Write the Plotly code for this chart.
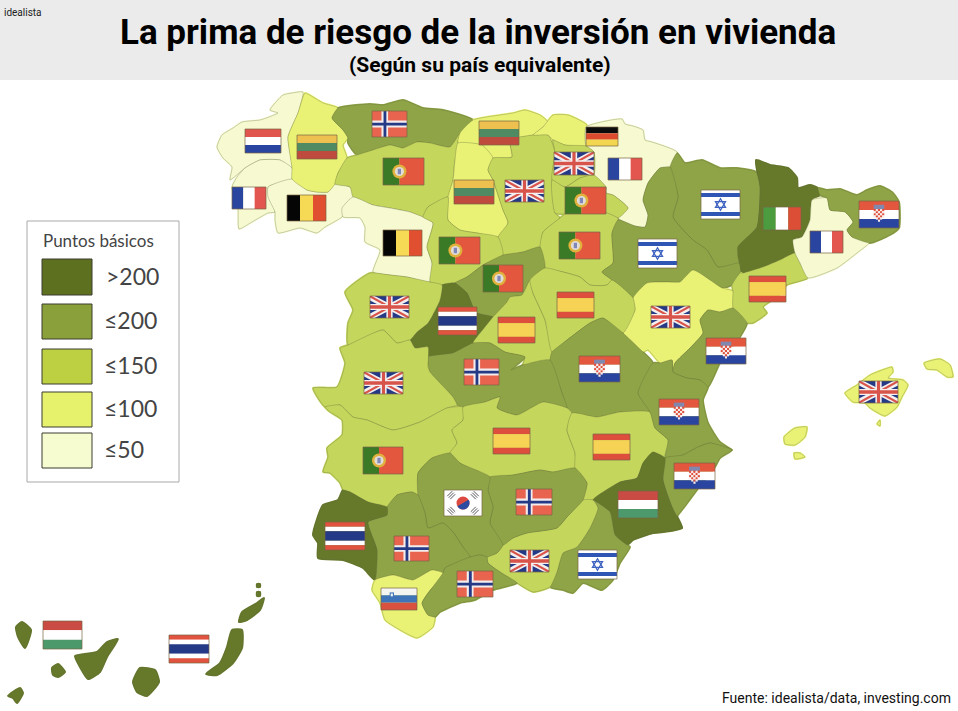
import numpy as np
import plotly.graph_objects as go

# risk band per province (0: <=50, 1: <=100, 2: <=150, 3: <=200, 4: >200)
province_names = ["A Coruna", "Pontevedra", "Ourense", "Lugo", "Asturias", "Leon", "Cantabria", "Palencia",
                  "Burgos", "Bizkaia", "Navarra", "Alava", "La Rioja", "Soria", "Huesca", "Zaragoza", "Teruel",
                  "Lleida", "Tarragona", "Barcelona", "Girona", "Zamora", "Valladolid", "Segovia", "Avila",
                  "Madrid", "Guadalajara", "Cuenca", "Toledo", "Salamanca", "Caceres", "Badajoz", "Ciudad Real",
                  "Albacete", "Castellon", "Valencia", "Alicante", "Murcia", "Almeria", "Granada", "Jaen",
                  "Cordoba", "Sevilla", "Huelva", "Cadiz", "Malaga", "Mallorca", "Menorca", "Ibiza",
                  "Formentera", "Cabrera", "La Palma", "La Gomera", "El Hierro", "Tenerife", "Gran Canaria",
                  "Fuerteventura", "Lanzarote", "Graciosa", "Alegranza"]
province_band = [0, 0, 0, 1, 3, 2, 1, 1,
                 2, 1, 0, 2, 2, 2, 3, 3, 1,
                 4, 2, 0, 3, 0, 2, 3, 4,
                 2, 2, 3, 3, 2, 2, 2, 2,
                 2, 3, 3, 3, 4, 3, 2, 3,
                 3, 3, 4, 1, 3, 1, 1, 1,
                 1, 1, 4, 4, 4, 4, 4,
                 4, 4, 4, 4]

band_colors = ["#f7fad0", "#e9f274", "#c5d65c", "#8fa446", "#66792b"]
legend_colors = ["#5c7020", "#8aa13b", "#bcd042", "#e6f26c", "#f6fbd0"]
legend_labels = [">200", "≤200", "≤150", "≤100", "≤50"]
legend_title = "Puntos básicos"

title = "La prima de riesgo de la inversión en vivienda"
subtitle = "(Según su país equivalente)"
logo = "idealista"
source = "Fuente: idealista/data, investing.com"

# outlines
outlines = {
    "A Coruna": [(303,92),(292,93),(283,95),(270,110),(278,113),(269,117),(260,120),(242,122),(233,128),(222,135),(217,147),(223,158),(232,167),(230,180),(245,168),(260,160),(280,160),(292,168),(288,137),(298,113)],
    "Pontevedra": [(292,168),(280,160),(260,160),(245,168),(237,177),(232,187),(238,207),(239,229),(252,222),(268,213),(275,212),(268,187),(292,179)],
    "Ourense": [(268,187),(292,179),(307,190),(317,192),(328,192),(335,184),(350,187),(354,197),(347,207),(342,217),(325,227),(317,233),(300,228),(278,233),(275,220),(275,212),(268,197)],
    "Lugo": [(305,93),(313,97),(323,103),(338,108),(332,118),(343,130),(348,138),(343,145),(347,158),(338,173),(335,184),(328,192),(317,192),(307,190),(292,179),(292,168),(288,137),(298,113)],
    "Asturias": [(338,108),(370,104),(383,105),(403,100),(423,108),(443,110),(473,120),(460,133),(450,147),(430,143),(417,142),(403,148),(390,145),(373,150),(357,155),(348,143),(348,138),(343,130),(332,118)],
    "Leon": [(357,155),(373,150),(390,145),(403,148),(417,142),(430,143),(450,147),(460,133),(458,143),(462,147),(455,160),(453,180),(448,197),(428,207),(423,217),(410,212),(390,208),(373,205),(353,197),(350,187),(335,184),(338,173),(347,158)],
    "Cantabria": [(473,120),(513,113),(525,110),(540,115),(548,122),(543,127),(533,135),(510,140),(512,157),(500,158),(493,158),(482,145),(458,143),(460,133)],
    "Palencia": [(458,143),(482,145),(493,158),(488,170),(493,180),(503,210),(508,223),(498,237),(477,233),(460,230),(448,220),(448,197),(453,180),(455,160)],
    "Burgos": [(493,158),(512,157),(510,140),(533,135),(548,135),(555,152),(552,180),(555,213),(560,218),(543,232),(540,247),(523,252),(503,255),(498,237),(508,223),(503,210),(493,180),(488,170)],
    "Bizkaia": [(543,127),(553,115),(568,115),(587,125),(586,146),(565,145),(553,140),(548,135),(533,135)],
    "Navarra": [(586,127),(622,119),(625,124),(633,126),(643,130),(645,140),(652,142),(677,152),(670,167),(660,168),(648,183),(643,200),(648,215),(645,227),(635,226),(618,218),(628,208),(613,195),(606,193),(606,187),(594,175),(594,152),(586,146)],
    "Alava": [(553,140),(565,145),(586,146),(594,152),(594,175),(580,178),(565,187),(552,180),(555,152)],
    "La Rioja": [(552,180),(565,187),(580,178),(594,175),(606,187),(606,193),(613,195),(628,208),(618,218),(600,210),(585,205),(565,214),(555,213)],
    "Soria": [(560,218),(565,214),(585,205),(600,210),(618,218),(618,220),(612,233),(613,263),(602,272),(612,280),(607,285),(590,285),(580,277),(563,272),(545,268),(540,247),(543,232)],
    "Huesca": [(677,153),(685,163),(702,160),(720,168),(737,168),(756,172),(760,187),(757,227),(738,247),(740,263),(718,267),(707,250),(693,240),(673,217),(678,197),(670,167)],
    "Zaragoza": [(670,167),(678,197),(673,217),(693,240),(707,250),(718,267),(740,263),(740,273),(732,285),(722,288),(693,270),(680,282),(667,282),(647,283),(633,298),(612,280),(602,272),(613,263),(612,233),(618,220),(635,226),(645,227),(648,215),(643,200),(648,183),(660,168)],
    "Teruel": [(633,298),(647,283),(667,282),(680,282),(693,270),(722,288),(733,291),(733,308),(720,312),(708,310),(700,320),(703,333),(690,348),(675,363),(673,372),(672,360),(660,363),(648,350),(643,352),(623,333),(635,310)],
    "Lleida": [(756,160),(770,165),(788,168),(797,178),(798,188),(810,185),(818,188),(820,195),(812,200),(810,220),(802,237),(793,240),(795,253),(780,260),(763,267),(743,273),(738,257),(738,247),(757,227),(760,187)],
    "Tarragona": [(743,273),(763,267),(780,260),(795,253),(800,263),(808,278),(787,285),(777,297),(763,307),(767,313),(753,323),(747,323),(733,308),(733,291),(732,285),(740,273)],
    "Barcelona": [(812,200),(827,198),(830,210),(845,212),(853,222),(847,230),(852,237),(870,242),(857,253),(837,268),(808,278),(800,263),(795,253),(793,240),(802,237),(810,220)],
    "Girona": [(818,188),(827,190),(840,189),(857,195),(867,190),(880,186),(892,192),(899,202),(899,228),(890,235),(870,243),(852,237),(847,230),(853,222),(845,212),(830,210),(827,198),(820,195)],
    "Zamora": [(353,197),(342,208),(343,217),(360,218),(365,227),(365,242),(380,250),(373,272),(390,275),(407,277),(430,282),(432,263),(427,247),(433,223),(423,217),(410,212),(390,208),(373,205)],
    "Valladolid": [(428,207),(448,197),(448,220),(460,230),(477,233),(498,237),(503,255),(483,265),(467,277),(455,283),(443,285),(430,282),(432,263),(427,247),(433,223),(423,217)],
    "Segovia": [(503,255),(523,252),(540,247),(545,268),(530,280),(522,295),(510,297),(507,302),(493,317),(477,313),(473,307),(467,293),(455,283),(467,277),(483,265)],
    "Avila": [(442,285),(455,283),(467,293),(473,307),(477,313),(493,317),(485,327),(473,343),(453,353),(428,357),(428,347),(415,348),(410,340),(417,332),(428,323),(440,300)],
    "Madrid": [(507,302),(510,297),(522,295),(530,280),(533,293),(545,320),(552,352),(550,360),(523,365),(525,357),(505,352),(490,343),(473,343),(485,327),(493,317)],
    "Guadalajara": [(530,280),(545,268),(563,272),(580,277),(590,285),(607,285),(612,280),(633,298),(635,310),(623,333),(603,318),(590,323),(567,340),(552,352),(545,320),(533,293)],
    "Cuenca": [(552,352),(567,340),(590,323),(603,318),(623,333),(643,352),(653,363),(638,393),(650,412),(620,412),(597,417),(572,413),(567,408),(562,393),(550,360)],
    "Toledo": [(428,357),(453,353),(473,343),(490,343),(505,352),(525,357),(511,370),(523,365),(550,360),(562,393),(567,408),(543,402),(517,415),(497,408),(500,397),(485,402),(463,407),(457,405),(453,397),(440,383),(430,372)],
    "Salamanca": [(345,292),(370,273),(390,275),(407,277),(430,282),(442,285),(440,300),(428,323),(417,332),(410,340),(397,343),(383,330),(348,345),(348,323),(353,310)],
    "Caceres": [(340,348),(348,345),(383,330),(397,343),(410,340),(415,348),(428,347),(428,367),(430,372),(440,383),(453,397),(457,405),(447,408),(420,422),(393,430),(367,420),(353,417),(340,405),(325,407),(313,388),(337,387),(345,363)],
    "Badajoz": [(340,405),(353,417),(367,420),(393,430),(420,422),(447,408),(463,407),(463,420),(452,430),(457,443),(450,453),(432,458),(418,473),(418,495),(412,492),(397,495),(387,507),(368,502),(350,492),(343,490),(340,483),(330,473),(323,472),(328,457),(327,448),(342,435),(342,420),(330,412),(325,407)],
    "Ciudad Real": [(463,407),(485,402),(500,397),(497,408),(517,415),(543,402),(567,408),(572,413),(567,430),(575,453),(575,468),(553,472),(540,470),(513,475),(490,477),(460,463),(450,453),(457,443),(452,430),(463,420)],
    "Albacete": [(572,413),(597,417),(620,412),(650,412),(655,428),(668,440),(665,458),(653,452),(643,463),(637,478),(620,482),(593,500),(583,500),(587,483),(575,468),(575,453),(567,430)],
    "Castellon": [(675,363),(690,348),(703,333),(700,320),(708,310),(720,312),(733,308),(747,323),(740,337),(720,363),(708,387),(700,380),(687,378),(673,372)],
    "Valencia": [(638,393),(653,363),(660,363),(672,360),(673,372),(687,378),(700,380),(708,387),(703,400),(708,423),(720,442),(732,450),(710,443),(698,447),(683,455),(665,458),(668,440),(655,428),(650,412)],
    "Alicante": [(732,450),(720,458),(715,467),(697,490),(682,510),(677,517),(682,528),(672,507),(663,480),(665,458),(683,455),(698,447),(710,443)],
    "Murcia": [(653,452),(665,458),(663,480),(672,507),(682,528),(663,532),(653,533),(633,540),(627,545),(615,535),(610,512),(593,500),(620,482),(637,478),(643,463)],
    "Almeria": [(593,500),(610,512),(615,535),(627,545),(630,547),(620,563),(613,580),(602,590),(583,583),(573,593),(563,590),(550,587),(557,572),(563,553),(577,547),(590,528),(598,508)],
    "Granada": [(583,500),(593,500),(598,508),(590,528),(577,547),(563,553),(557,572),(550,587),(533,592),(517,583),(500,572),(488,563),(487,557),(497,553),(503,545),(513,538),(527,533),(557,528),(567,517)],
    "Jaen": [(490,477),(513,475),(540,470),(553,472),(575,468),(587,483),(583,500),(567,517),(557,528),(527,533),(513,538),(503,545),(490,523),(493,507),(488,490)],
    "Cordoba": [(418,473),(432,458),(450,453),(460,463),(490,477),(488,490),(493,507),(490,523),(503,545),(497,553),(487,557),(480,555),(470,557),(463,547),(453,532),(443,523),(428,528),(425,513),(418,495)],
    "Sevilla": [(412,492),(418,495),(425,513),(428,528),(443,523),(453,532),(463,547),(470,557),(445,568),(443,573),(432,570),(413,580),(393,575),(375,580),(377,550),(368,522),(387,515),(387,507),(397,495)],
    "Huelva": [(343,490),(350,492),(368,502),(387,507),(387,515),(368,522),(377,550),(375,580),(363,568),(343,560),(318,558),(318,543),(313,535),(323,505),(338,500)],
    "Cadiz": [(375,580),(393,575),(413,580),(432,570),(443,573),(443,582),(432,588),(422,603),(428,615),(435,617),(433,627),(417,638),(400,630),(385,620),(380,603),(372,590)],
    "Malaga": [(432,588),(443,573),(445,568),(470,557),(480,555),(487,557),(488,563),(500,572),(517,583),(493,590),(475,600),(460,603),(440,612),(435,617),(428,615),(422,603)],
    "Mallorca": [(845,393),(857,385),(870,375),(885,369),(892,367),(893,372),(888,378),(903,380),(908,385),(902,397),(897,407),(885,416),(870,408),(865,403),(853,402)],
    "Menorca": [(924,363),(940,359),(950,365),(953,377),(947,377),(937,370),(927,369)],
    "Ibiza": [(784,437),(795,428),(807,427),(805,437),(795,445),(785,444)],
    "Formentera": [(794,453),(800,453),(805,457),(795,459)],
    "Cabrera": [(877,424),(880,420),(880,426)],
    "La Palma": [(16,627),(22,622),(31,630),(25,648),(18,637)],
    "La Gomera": [(52,668),(58,664),(65,672),(58,677),(53,675)],
    "El Hierro": [(8,696),(20,688),(23,693),(17,703),(13,698)],
    "Tenerife": [(75,656),(97,652),(107,642),(118,639),(107,657),(100,672),(88,679),(80,667)],
    "Gran Canaria": [(140,668),(155,670),(159,682),(147,696),(137,692),(133,682)],
    "Fuerteventura": [(232,630),(242,630),(242,648),(233,663),(217,675),(206,674),(220,663),(227,647)],
    "Lanzarote": [(242,612),(257,603),(264,598),(260,610),(247,620),(239,622)],
    "Graciosa": [(257,592),(260,592),(260,596),(257,596)],
    "Alegranza": [(257,584),(260,584),(260,587),(257,587)],
}

# country shown on each province: flag, left, top, right, bottom
flags = [("nl",245,129,281,153), ("lt",297,135,337,159), ("no",372,111,407,137), ("lt",479,121,519,145),
         ("de",586,127,618,146), ("pt",383,158,424,185), ("gb",554,152,594,175), ("fr",608,158,642,180),
         ("fr",232,187,266,209), ("be",287,195,326,221), ("lt",454,180,494,204), ("gb",505,180,544,202),
         ("pt",565,187,606,214), ("be",383,230,422,256), ("pt",439,237,480,264), ("pt",559,232,600,259),
         ("pt",483,265,523,292), ("gb",370,296,409,318), ("th",438,307,477,335), ("es",498,317,535,343),
         ("es",557,292,594,318), ("gb",651,306,690,328), ("il",701,190,740,219), ("il",638,239,677,268),
         ("it",763,207,801,230), ("hr",859,201,899,228), ("fr",810,231,843,253), ("es",749,276,786,302),
         ("hr",706,338,746,364), ("gb",859,381,898,403), ("hr",659,399,699,425), ("hr",674,463,715,489),
         ("hr",579,356,620,382), ("no",464,359,499,385), ("gb",364,372,403,394), ("es",493,428,530,454),
         ("es",593,434,630,460), ("pt",363,447,403,474), ("kr",444,490,482,516), ("no",516,489,552,515),
         ("hu",618,491,658,518), ("th",325,522,365,550), ("no",394,536,429,561), ("si",381,588,417,610),
         ("no",457,571,493,597), ("gb",510,550,549,572), ("il",578,550,617,579), ("hu",43,621,82,649),
         ("th",169,635,209,663)]

RED = "#e4573f"
BLUE = "#2a45a0"
NAVY = "#253a86"
WHITE = "#ffffff"
shapes = []


def rect(x0, y0, x1, y1, color):
    shapes.append(dict(type="rect", x0=x0, y0=y0, x1=x1, y1=y1, fillcolor=color, line_width=0))


def poly(points, color):
    path = "M" + "L".join(f"{p[0]:.2f},{p[1]:.2f}" for p in points) + "Z"
    shapes.append(dict(type="path", path=path, fillcolor=color, line_width=0))


def disc(cx, cy, r, color):
    shapes.append(dict(type="circle", x0=cx - r, x1=cx + r, y0=cy - r, y1=cy + r, fillcolor=color, line_width=0))


def stripes_h(b, colors, cuts=None):
    x0, y0, x1, y1 = b
    n = len(colors)
    cuts = cuts or [i / n for i in range(n + 1)]
    for i, c in enumerate(colors):
        rect(x0, y0 + (y1 - y0) * cuts[i], x1, y0 + (y1 - y0) * cuts[i + 1], c)


def stripes_v(b, colors, cuts=None):
    x0, y0, x1, y1 = b
    n = len(colors)
    cuts = cuts or [i / n for i in range(n + 1)]
    for i, c in enumerate(colors):
        rect(x0 + (x1 - x0) * cuts[i], y0, x0 + (x1 - x0) * cuts[i + 1], y1, c)


def union_jack(b):
    x0, y0, x1, y1 = b
    w, h = x1 - x0, y1 - y0
    rect(x0, y0, x1, y1, NAVY)
    for d, e, col in [(0.12, 0.2, "#f4f0f0"), (0.045, 0.07, "#d8534a")]:
        poly([(x0, y0), (x0 + d * w, y0), (x1, y1 - e * h), (x1, y1), (x1 - d * w, y1), (x0, y0 + e * h)], col)
        poly([(x1, y0), (x1 - d * w, y0), (x0, y1 - e * h), (x0, y1), (x0 + d * w, y1), (x1, y0 + e * h)], col)
    rect(x0 + 0.42 * w, y0, x0 + 0.58 * w, y1, "#f4f0f0")
    rect(x0, y0 + 0.36 * h, x1, y0 + 0.64 * h, "#f4f0f0")
    rect(x0 + 0.46 * w, y0, x0 + 0.54 * w, y1, "#d8534a")
    rect(x0, y0 + 0.42 * h, x1, y0 + 0.58 * h, "#d8534a")


def norway(b):
    x0, y0, x1, y1 = b
    w, h = x1 - x0, y1 - y0
    rect(x0, y0, x1, y1, "#e8644f")
    rect(x0 + 0.27 * w, y0, x0 + 0.46 * w, y1, "#f3ecec")
    rect(x0, y0 + 0.37 * h, x1, y0 + 0.63 * h, "#f3ecec")
    rect(x0 + 0.33 * w, y0, x0 + 0.41 * w, y1, NAVY)
    rect(x0, y0 + 0.45 * h, x1, y0 + 0.56 * h, NAVY)


def portugal(b):
    x0, y0, x1, y1 = b
    w, h = x1 - x0, y1 - y0
    stripes_v(b, ["#3a7a26", RED], [0, 0.4, 1])
    cx, cy = x0 + 0.4 * w, y0 + 0.5 * h
    disc(cx, cy, 0.26 * h, "#e0b13c")
    disc(cx, cy, 0.17 * h, "#e2dcd6")
    rect(cx - 0.06 * h, cy - 0.1 * h, cx + 0.06 * h, cy + 0.1 * h, "#7f86b8")


def israel(b):
    x0, y0, x1, y1 = b
    w, h = x1 - x0, y1 - y0
    stripes_h(b, [WHITE, "#2f55b5", WHITE, "#2f55b5", WHITE], [0, 0.1, 0.24, 0.76, 0.9, 1])
    cx, cy = x0 + 0.5 * w, y0 + 0.5 * h
    r = 0.2 * h
    for a in (90, 270):
        angles = np.radians([a, a + 120, a + 240])
        pts = [(cx + r * np.cos(t), cy - r * np.sin(t)) for t in angles]
        path = "M" + "L".join(f"{p[0]:.2f},{p[1]:.2f}" for p in pts) + "Z"
        shapes.append(dict(type="path", path=path, line=dict(color="#3f63c0", width=1.3)))


def croatia(b):
    x0, y0, x1, y1 = b
    w, h = x1 - x0, y1 - y0
    stripes_h(b, [RED, WHITE, BLUE])
    cx = x0 + 0.5 * w
    cell = 0.085 * w * 0.62
    top = y0 + 0.3 * h
    rect(cx - 2.5 * cell, y0 + 0.14 * h, cx + 2.5 * cell, top, "#8088b0")
    for i in range(6):
        half = 2 if i < 4 else (1 if i == 4 else 0)
        for j in range(-half, half + 1):
            col = "#df4f3d" if (i + j) % 2 == 0 else "#f7ecea"
            rect(cx + (j - 0.5) * cell, top + i * cell, cx + (j + 0.5) * cell, top + (i + 1) * cell, col)


def korea(b):
    x0, y0, x1, y1 = b
    w, h = x1 - x0, y1 - y0
    rect(x0, y0, x1, y1, WHITE)
    cx, cy, r = x0 + 0.5 * w, y0 + 0.5 * h, 0.25 * h
    disc(cx, cy, r, "#dd4a42")
    t = np.radians(np.arange(-30, 151, 15))
    poly([(cx + r * np.cos(a), cy + r * np.sin(a)) for a in t], "#2c4aa0")
    # three short bars in each corner, square to the line through the centre
    for sx, sy in [(-1, -1), (1, -1), (-1, 1), (1, 1)]:
        mx, my = cx + sx * 0.31 * w, cy + sy * 0.3 * h
        for k in (-1, 0, 1):
            ox, oy = mx + k * 1.5 * sx, my + k * 1.5 * sy
            shapes.append(dict(type="line", x0=ox - 2.5 * sy, y0=oy + 2.5 * sx, x1=ox + 2.5 * sy, y1=oy - 2.5 * sx,
                               line=dict(color="#55555c", width=1)))


def slovenia(b):
    x0, y0, x1, y1 = b
    w, h = x1 - x0, y1 - y0
    stripes_h(b, ["#f4f4f0", "#3f74b8", "#d9513f"])
    rect(x0 + 0.24 * w, y0 + 0.2 * h, x0 + 0.36 * w, y0 + 0.45 * h, "#3f74b8")
    rect(x0 + 0.27 * w, y0 + 0.25 * h, x0 + 0.33 * w, y0 + 0.38 * h, "#f4f4f0")


simple_flags = {
    "nl": lambda b: stripes_h(b, ["#e0564e", WHITE, BLUE]),
    "lt": lambda b: stripes_h(b, ["#eec04f", "#4f8a63", "#bf4a3e"]),
    "de": lambda b: stripes_h(b, ["#0c0c0c", "#dd4b2f", "#f3d64f"]),
    "hu": lambda b: stripes_h(b, ["#c94b43", WHITE, "#4c9a6c"]),
    "be": lambda b: stripes_v(b, ["#050505", "#f6d954", "#e04f30"]),
    "fr": lambda b: stripes_v(b, [BLUE, WHITE, "#e2564f"]),
    "it": lambda b: stripes_v(b, ["#4b9c3f", WHITE, "#dc4f36"]),
    "es": lambda b: stripes_h(b, ["#dd4f3c", "#f6d354", "#dd4f3c"], [0, 0.24, 0.76, 1]),
    "th": lambda b: stripes_h(b, ["#e2533f", WHITE, NAVY, WHITE, "#e2533f"], [0, 1 / 6, 1 / 3, 2 / 3, 5 / 6, 1]),
    "gb": union_jack, "no": norway, "pt": portugal, "il": israel, "hr": croatia, "kr": korea, "si": slovenia,
}

fig = go.Figure()

# first pass closes the hairline gaps between neighbours
for name, band in zip(province_names, province_band):
    xs, ys = zip(*outlines[name])
    fig.add_trace(go.Scatter(x=xs + xs[:1], y=ys + ys[:1], mode="lines", fill="toself",
                             fillcolor=band_colors[band],
                             line=dict(color=band_colors[band], width=2, shape="spline", smoothing=0.5),
                             hoverinfo="skip", showlegend=False))
for name, band in zip(province_names, province_band):
    xs, ys = zip(*outlines[name])
    fig.add_trace(go.Scatter(x=xs + xs[:1], y=ys + ys[:1], mode="lines", fill="toself",
                             fillcolor=band_colors[band],
                             line=dict(color="rgba(95,105,60,0.32)", width=1, shape="spline", smoothing=0.5),
                             name=name, hoverinfo="name", showlegend=False))

# header band
shapes.append(dict(type="rect", x0=0, y0=0, x1=958, y1=80, fillcolor="#ebebeb", line_width=0, layer="below"))

for code, left, top, right, bottom in flags:
    box = (left, top, right, bottom)
    simple_flags[code](box)
    shapes.append(dict(type="rect", x0=left, y0=top, x1=right, y1=bottom, line=dict(color="rgba(120,100,70,0.7)", width=1)))

# legend box
shapes.append(dict(type="rect", x0=27, y0=221, x1=179, y1=482, fillcolor="#ffffff", line=dict(color="#a9a9a9", width=1)))
swatch_tops = [259, 304, 349, 392, 433]
swatch_bottoms = [295, 339, 384, 427, 468]
for color, y0, y1 in zip(legend_colors, swatch_tops, swatch_bottoms):
    shapes.append(dict(type="rect", x0=42, y0=y0, x1=92, y1=y1, fillcolor=color, line=dict(color="#3c3c30", width=1)))

fig.update_layout(shapes=shapes)

LEGEND_FONT = "Lato"
fig.add_annotation(x=41, y=240, text=legend_title, xanchor="left", font=dict(family=LEGEND_FONT, size=17, color="#444444"))
label_left = [104, 102, 102, 102, 102]
for label, left, y0, y1 in zip(legend_labels, label_left, swatch_tops, swatch_bottoms):
    fig.add_annotation(x=left, y=(y0 + y1) / 2 - 1.5, text=label, xanchor="left",
                       font=dict(family=LEGEND_FONT, size=23, color="#444444"))

HEAD_FONT = "Roboto"
fig.add_annotation(x=478, y=32, text=f"<b>{title}</b>", font=dict(family=HEAD_FONT, size=35, color="#000000"))
fig.add_annotation(x=480, y=65, text=f"<b>{subtitle}</b>", font=dict(family=HEAD_FONT, size=21, color="#000000"))
fig.add_annotation(x=2, y=12, text=logo, xanchor="left", font=dict(family=HEAD_FONT, size=10, color="#222222"))
fig.add_annotation(x=953, y=698, text=source, xanchor="right", font=dict(family=HEAD_FONT, size=14, color="#111111"))
fig.update_annotations(showarrow=False)

fig.update_layout(
    width=958, height=711,
    margin=dict(l=0, r=0, t=0, b=0),
    paper_bgcolor="white", plot_bgcolor="white",
    xaxis=dict(range=[0, 958], visible=False, fixedrange=True),
    yaxis=dict(range=[711, 0], visible=False, fixedrange=True),
)

fig.write_html("out.html", config={"displayModeBar": False},
               post_script="document.body.style.margin='0';document.body.style.overflow='hidden';")
